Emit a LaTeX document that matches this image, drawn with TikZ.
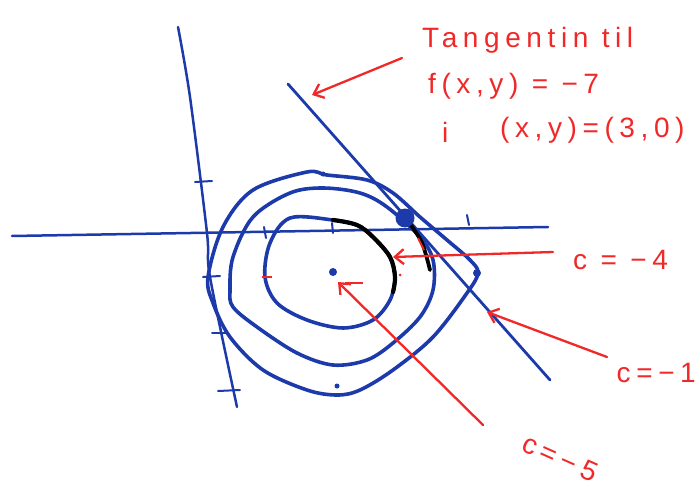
\documentclass[tikz,border=0pt]{standalone}
\usepackage{fontspec}
\setmainfont{Liberation Sans}
\newfontfamily\hand[LetterSpace=20]{Liberation Sans}
\usetikzlibrary{arrows.meta}
\definecolor{pen}{RGB}{28,58,170}
\definecolor{redpen}{RGB}{240,40,40}
\tikzset{
  contour/.style={pen, line width=3.6pt, line cap=round, line join=round},
  axisline/.style={pen, line width=2.5pt, line cap=round},
  tick/.style={pen, line width=2pt, line cap=round},
  redarrow/.style={redpen, line width=2.3pt, line cap=round, -{Straight Barb[length=9pt,width=15pt,line width=2.3pt]}},
  label/.style={redpen, font=\hand\fontsize{28}{30}\selectfont, inner sep=0pt},
  dot/.style={circle, fill=pen, inner sep=0pt, minimum size=#1},
}
\begin{document}
\begin{tikzpicture}[x=1pt,y=-1pt]
\useasboundingbox (0,0) rectangle (696,495);
% axes
\coordinate (xl) at (12,236);
\coordinate (xr) at (548,227);
\draw[axisline] (xl) -- (xr);
\draw[axisline] plot[smooth, tension=0.5] coordinates {(178,27) (190,97) (207,233) (210,277) (237,407)};
% ticks on left line
\draw[tick] (195,182) -- (212,181);
\draw[tick] (203,277) -- (220,276);
\draw[tick] (212,333) -- (227,333);
\draw[tick] (218,391) -- (240,390);
% ticks on horizontal axis
\draw[tick] (264,227) -- (266,238);
\draw[tick] (332,223) -- (333,233);
\draw[tick] (467,215) -- (469,225);
% tangent line
\coordinate (t1) at (288,84);
\coordinate (t2) at (550,380);
\draw[axisline, line width=2.8pt] (t1) -- (t2);
% outer contour
\draw[contour] plot[smooth cycle, tension=0.55] coordinates {
 (208,277) (223,227) (253,190) (307,172) (327,175) (367,180) (393,193)
 (420,217) (447,240) (470,260) (478,273) (467,293) (433,337) (393,370)
 (360,390) (337,395) (307,390) (263,370) (230,337) (213,303)};
% middle contour
\draw[contour] plot[smooth cycle, tension=0.55] coordinates {
 (230,290) (233,257) (253,217) (290,193) (323,188) (360,193) (387,207)
 (420,237) (433,260) (433,290) (420,317) (393,343) (367,360) (333,365)
 (297,353) (257,327) (233,307)};
% inner contour
\draw[contour] plot[smooth cycle, tension=0.55] coordinates {
 (333,220) (357,225) (373,237) (390,257) (395,277) (390,300) (373,320)
 (343,328) (307,320) (277,303) (265,277) (270,243) (290,218)};
% black arcs
\draw[black, line width=4.2pt, line cap=round] plot[smooth, tension=0.55] coordinates {(333,220) (357,225) (373,237) (390,257) (395,277) (393,292)};
\draw[black, line width=3.8pt, line cap=round] plot[smooth, tension=0.6] coordinates {(410,224) (422,243) (430,270)};
% small red marks
\draw[redpen, line width=2pt] (262,277) -- (272,277);
\draw[redpen, line width=2pt] (345,283) -- (363,283);
\draw[redpen, line width=2pt] (418,238) -- (424,250);
\fill[redpen] (400,275) circle (1.5pt);
% dots
\node[dot=19pt] (tp) at (405,218) {};
\node[dot=8pt] (cen) at (333,272) {};
\node[dot=8pt] (rd) at (477,273) {};
\node[dot=5pt] (bd) at (337,386) {};
\node[dot=5pt] (td) at (323,174) {};
% texts
\node[label, anchor=west] (tt) at (422,40) {Tangentin til};
\node[label, anchor=west] (fx) at (428,86) {f(x,y) = −7};
\node[label, anchor=west] (ii) at (442,132) {i};
\node[label, anchor=west] (pt) at (500,130) {(x,y)=(3,0)};
\node[label, anchor=west] (c4) at (573,260) {c = −4};
\node[label, anchor=east] (c1) at (696,373) {c=−1};
\node[label, rotate=-24] (c5) at (560,458) {c=−5};
% arrow ends
\coordinate (a1) at (312,95);
\coordinate (a4) at (393,257);
\coordinate (a1c) at (487,312);
\coordinate (a5) at (338,282);
\coordinate (s1) at (402,58);
\coordinate (s4) at (553,252);
\coordinate (s1c) at (607,357);
\coordinate (s5) at (483,425);
\draw[redarrow] (s1) -- (a1);
\draw[redarrow] (s4) -- (a4);
\draw[redarrow] (s1c) -- (a1c);
\draw[redarrow] (s5) -- (a5);
\end{tikzpicture}
\end{document}
